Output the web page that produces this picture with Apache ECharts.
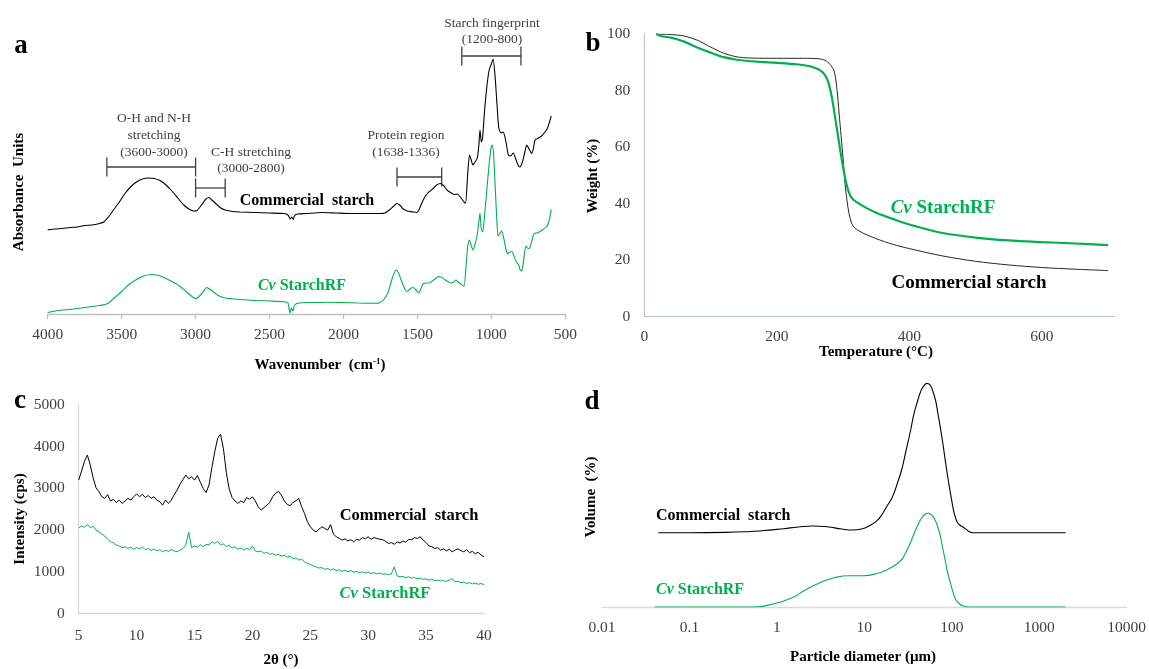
<!DOCTYPE html>
<html>
<head>
<meta charset="utf-8">
<script src="https://cdn.jsdelivr.net/npm/echarts@6/dist/echarts.min.js"></script>
<style>
  html, body { margin: 0; padding: 0; background: #fff; }
  #chart { width: 1149px; height: 669px; }
</style>
</head>
<body>
<div id="chart"></div>
<script>
// ---------- (a) FTIR spectra: [wavenumber (cm-1), absorbance (a.u., stacked)] ----------
const ftirCommercial = [
  [4000,84],[3950,85],[3900,85.5],[3850,86.5],[3800,87],[3750,88.5],[3700,89],[3650,90.5],[3620,92],
  [3590,97],[3560,103],[3520,111],[3480,120],[3440,127],[3400,132],[3360,135],[3320,136],[3280,135.5],
  [3240,133.5],[3200,129],[3160,123],[3120,116],[3080,109],[3040,104.5],[3010,103],[2990,103.5],
  [2960,109],[2930,115],[2910,116.5],[2890,114],[2860,110],[2830,106],[2800,104],[2750,102.5],
  [2700,102],[2600,101.5],[2500,101],[2400,100.5],[2375,99],[2360,95],[2350,97],[2340,94.5],
  [2330,98.5],[2310,100],[2250,100.5],[2150,101.5],[2050,101],[1950,100.5],[1850,100.5],[1750,100.5],
  [1720,101],[1690,104],[1660,108],[1640,110.5],[1620,109],[1600,105.5],[1570,103],[1530,102],
  [1505,101.5],[1490,104],[1470,111],[1450,117],[1430,121],[1410,123.5],[1390,126],[1370,129],
  [1345,130.5],[1320,128],[1300,124],[1270,121],[1250,119.5],[1230,120],[1210,117],[1190,113],
  [1175,110.5],[1160,140],[1148,159],[1138,155],[1125,149],[1110,152],[1095,156],[1085,168],
  [1077,184],[1068,172],[1060,175],[1045,205],[1030,228],[1015,244],[1000,250],[988,255],[975,238],
  [962,210],[950,186],[935,181],[920,182],[905,175],[885,159],[870,158],[852,161],[835,155],[820,149],
  [806,147],[790,152],[775,161],[761,169],[745,165],[727,160.5],[715,166],[705,174],[680,176],
  [660,178],[637,182],[620,186],[605,193],[595,198]
];
const ftirCvStarchRF = [
  [4000,1.5],[3950,3],[3900,4],[3850,4.5],[3800,5.5],[3750,6.5],[3700,7.5],[3650,8.5],[3610,9.5],
  [3580,12],[3550,16],[3500,22.5],[3450,29.5],[3400,34.5],[3350,38],[3300,39.5],[3260,39],[3220,37],
  [3180,34],[3140,31],[3100,27],[3060,22],[3020,17],[3000,15.5],[2980,17],[2950,22],[2925,26.5],
  [2900,24.5],[2870,21],[2840,18],[2800,16],[2700,14.5],[2600,13.5],[2500,13],[2400,12.3],[2375,11],
  [2362,1],[2352,6],[2342,3],[2330,9],[2300,11],[2200,11.5],[2100,11.8],[2000,11.5],[1900,11],
  [1800,10.7],[1760,11],[1730,14],[1700,21],[1680,31],[1660,40],[1642,44],[1625,40],[1605,32],
  [1585,25],[1570,22.5],[1550,25],[1532,26.8],[1510,24],[1490,21],[1475,26],[1460,30.5],[1440,31],
  [1420,31],[1400,33],[1380,35],[1357,37.5],[1335,36.5],[1310,34],[1290,32],[1270,31],[1255,32],
  [1240,34],[1225,32],[1205,30],[1185,27.5],[1170,50],[1160,68],[1148,74],[1135,68],[1125,64],
  [1110,70],[1095,80],[1085,92],[1077,101],[1068,85],[1058,82],[1045,100],[1030,125],[1015,150],
  [1003,165],[994,169],[985,160],[975,130],[965,100],[955,78],[945,80],[930,83],[915,75],[900,64],
  [890,60.5],[875,62],[860,62.5],[845,57],[830,52],[815,49],[805,44],[795,43],[785,50],[775,62],
  [765,68],[752,65.5],[740,66],[725,74],[710,80.5],[690,81],[670,82.5],[650,84.5],[625,87.5],
  [610,93],[595,104.7]
];
const ftirTicks = [4000, 3500, 3000, 2500, 2000, 1500, 1000, 500];
// band brackets: [from, to] in cm-1 and the absorbance level each bracket sits at
const ftirBandRanges = [[3600, 3000], [3000, 2800], [1638, 1336], [1200, 800]];
const ftirBandLevels = [147, 126, 137, 258];

// ---------- (b) TGA: [temperature (°C), weight (%)] ----------
const tgaCommercial = [
  [18,100],[40,99.8],[60,99.3],[80,97.8],[100,95.4],[120,93.2],[140,91.9],[160,91.5],[200,91.4],
  [240,91.4],[265,91.2],[275,90.4],[282,88.8],[287,86.5],[291,80],[294,72],[297,64],[300,56],
  [303,47],[306,41],[309,36.5],[313,33],[318,31.3],[330,29.6],[350,27.6],[375,25.6],[400,24.1],
  [450,21.5],[500,19.6],[550,18.3],[600,17.4],[650,16.8],[700,16.3]
];
const tgaCvStarchRF = [
  [18,100],[26,99.2],[40,98.7],[60,97.3],[80,95.2],[100,93.4],[120,91.8],[140,90.9],[170,90.2],
  [200,89.8],[230,89.3],[250,88.6],[262,87.6],[270,86.3],[276,84],[281,80],[285,75],[289,69],
  [293,63],[297,57],[300,53],[304,48],[308,44.5],[313,42],[320,40.6],[335,38.5],[350,36.8],
  [375,34.6],[400,32.6],[450,29.6],[500,28],[550,27],[600,26.4],[650,25.9],[700,25.3]
];

// ---------- (c) XRD: intensity (cps) sampled every 0.25° of 2θ ----------
const xrdAngles = [
  5,5.25,5.5,5.75,6,6.25,6.5,6.75,7,7.25,7.5,7.75,8,8.25,8.5,8.75,9,9.25,9.5,9.75,
  10,10.25,10.5,10.75,11,11.25,11.5,11.75,12,12.25,12.5,12.75,13,13.25,13.5,13.75,14,14.25,14.5,14.75,
  15,15.25,15.5,15.75,16,16.25,16.5,16.75,17,17.25,17.5,17.75,18,18.25,18.5,18.75,19,19.25,19.5,19.75,
  20,20.25,20.5,20.75,21,21.25,21.5,21.75,22,22.25,22.5,22.75,23,23.25,23.5,23.75,24,24.25,24.5,24.75,
  25,25.25,25.5,25.75,26,26.25,26.5,26.75,27,27.25,27.5,27.75,28,28.25,28.5,28.75,29,29.25,29.5,29.75,
  30,30.25,30.5,30.75,31,31.25,31.5,31.75,32,32.25,32.5,32.75,33,33.25,33.5,33.75,34,34.25,34.5,34.75,
  35,35.25,35.5,35.75,36,36.25,36.5,36.75,37,37.25,37.5,37.75,38,38.25,38.5,38.75,39,39.25,39.5,39.75,
  40
];
const xrdCommercial = [
  3200,3420,3650,3800,3560,3250,3010,2920,2800,2760,
  2850,2700,2740,2660,2720,2640,2700,2760,2720,2800,
  2870,2800,2860,2780,2830,2760,2800,2720,2680,2600,
  2720,2640,2720,2850,2960,3100,3210,3320,3230,3280,
  3200,3310,3150,3000,2900,3080,3500,3880,4200,4300,
  3950,3380,2980,2780,2700,2640,2700,2660,2780,2740,
  2800,2700,2560,2480,2540,2600,2660,2800,2880,2930,
  2840,2700,2620,2580,2660,2700,2760,2560,2400,2200,
  2080,2000,1960,2020,2080,2040,2000,2130,1900,1840,
  1800,1760,1790,1740,1770,1720,1780,1760,1820,1790,
  1840,1780,1820,1800,1780,1770,1730,1680,1700,1660,
  1720,1690,1740,1710,1780,1770,1820,1800,1840,1760,
  1700,1620,1600,1560,1580,1520,1550,1500,1540,1480,
  1520,1550,1510,1480,1530,1460,1490,1430,1470,1400,
  1360
];
const xrdCvStarchRF = [
  2050,2100,2070,2130,2060,2090,2000,1960,1900,1860,
  1780,1720,1690,1640,1620,1580,1600,1560,1590,1540,
  1580,1550,1600,1530,1560,1510,1550,1500,1530,1480,
  1520,1490,1540,1500,1480,1520,1560,1640,1950,1580,
  1620,1590,1650,1600,1660,1640,1720,1680,1730,1650,
  1670,1600,1640,1570,1600,1540,1570,1520,1560,1530,
  1620,1500,1480,1500,1440,1470,1420,1440,1400,1420,
  1380,1400,1350,1370,1320,1330,1280,1300,1240,1200,
  1180,1140,1120,1090,1100,1060,1080,1040,1070,1030,
  1050,1010,1040,1000,1030,990,1010,980,1000,970,
  990,960,980,950,970,940,950,930,950,1120,
  900,880,890,860,880,850,860,830,850,820,
  830,800,820,790,800,780,790,770,800,840,
  760,770,740,750,720,740,710,730,700,720,
  690
];

// ---------- (d) particle size distribution: [diameter (µm), volume (%)] ----------
const psdCommercial = [
  [0.044,0],[0.1,0],[0.26,0.03],[0.5,0.12],[0.67,0.2],[1.0,0.33],[1.2,0.4],[1.75,0.57],[2.57,0.67],
  [3.76,0.6],[5.5,0.37],[7.35,0.27],[9.3,0.37],[11.8,0.77],[14,1.2],[15.8,1.77],[18,2.6],[21,3.6],
  [24,5.0],[26.7,6.27],[30,8.2],[33.9,10.27],[37,11.9],[41,13.27],[44,14.1],[47.3,14.6],[52.1,14.93],
  [56,14.8],[60.1,14.27],[65,13.3],[69.4,11.93],[75,10.2],[80.1,8.6],[86,6.7],[92.5,4.93],[100,3.2],
  [106.7,1.93],[115,1.1],[123,0.77],[132,0.6],[142,0.43],[155,0.15],[172,0],[400,0],[2000,0]
];
const psdCvStarchRF = [
  [0.04,0],[0.3,0],[0.55,0],[0.9,0.3],[1.45,0.87],[2.12,1.7],[3.1,2.43],[4.55,2.93],[6.67,3.13],
  [9.78,3.13],[14.3,3.37],[18,3.7],[21,4.03],[25.4,4.53],[28,5.0],[30.8,5.7],[34,6.5],[37.2,7.37],
  [41,8.2],[45.1,8.87],[49,9.25],[53.6,9.37],[58,9.25],[63,8.87],[68,8.2],[72.8,7.37],[78,6.1],
  [84,4.7],[90,3.4],[97,2.37],[104,1.4],[112,0.7],[123,0.3],[135.5,0.1],[156,0],[400,0],[2000,0]
];
// vertical offset of the stacked commercial-starch curve (volume %)
const psdCommercialOffset = 7.43;

// ---------- styling ----------
const SERIF = '"Liberation Serif", "Times New Roman", serif';
const GREEN = '#00b050';
const TICK_COLOR = '#404040';

const plainNumber = v => String(+Number(v).toPrecision(6));

function text(x, y, str, extra) {
  return {
    type: 'text', x: x, y: y, silent: true,
    style: Object.assign({
      text: str, fill: '#000', fontFamily: SERIF, fontSize: 15,
      align: 'center', verticalAlign: 'middle',
      textAlign: 'center', textVerticalAlign: 'middle'
    }, extra || {})
  };
}
function boldText(x, y, str, size, extra) {
  return text(x, y, str, Object.assign({ fontWeight: 'bold', fontSize: size }, extra || {}));
}
function vTitle(x, y, str, size) {
  const t = boldText(0, 0, str, size);
  t.x = x; t.y = y; t.rotation = Math.PI / 2;
  return t;
}
function cvLabel(x, y, size, align) {
  return text(x, y, '{i|Cv} {b|StarchRF}', {
    fill: GREEN, fontSize: size, fontWeight: 'bold',
    align: align || 'center', textAlign: align || 'center',
    rich: {
      i: { fontStyle: 'italic', fontWeight: 'bold', fontSize: size, fontFamily: SERIF, fill: GREEN, color: GREEN },
      b: { fontWeight: 'bold', fontSize: size, fontFamily: SERIF, fill: GREEN, color: GREEN }
    }
  });
}
const annot = { fill: '#404040', fontSize: 13.5 };

const graphics = [
  // panel letters
  boldText(21, 46, 'a', 27), boldText(593, 44, 'b', 27),
  boldText(20, 401, 'c', 27), boldText(592, 402, 'd', 27),

  // (a)
  vTitle(19, 192, 'Absorbance  Units', 15),
  text(320, 365, '{t|Wavenumber  (cm}{s|-1}{t|)}', {
    rich: {
      t: { fontFamily: SERIF, fontWeight: 'bold', fontSize: 15, fill: '#000' },
      s: { fontFamily: SERIF, fontWeight: 'bold', fontSize: 9, fill: '#000', verticalAlign: 'top', padding: [0, 0, 6, 0] }
    }
  }),
  text(154, 118, 'O-H and N-H', annot),
  text(154, 135, 'stretching', annot),
  text(154, 152, '(' + ftirBandRanges[0].join('-') + ')', annot),
  text(251, 152, 'C-H stretching', annot),
  text(251, 168, '(' + ftirBandRanges[1].join('-') + ')', annot),
  text(406, 135, 'Protein region', annot),
  text(406, 152, '(' + ftirBandRanges[2].join('-') + ')', annot),
  text(492, 23, 'Starch fingerprint', annot),
  text(492, 39.5, '(' + ftirBandRanges[3].join('-') + ')', annot),
  boldText(307, 201, 'Commercial  starch', 16),
  cvLabel(302, 286, 16),

  // (b)
  vTitle(593, 176, 'Weight (%)', 15),
  boldText(876, 352, 'Temperature (°C)', 15),
  cvLabel(943, 208, 19),
  boldText(969, 283, 'Commercial starch', 19),

  // (c)
  vTitle(20, 519, 'Intensity (cps)', 15),
  boldText(281, 660, '2θ (°)', 15),
  boldText(409, 516, 'Commercial  starch', 16.5),
  cvLabel(385, 594, 16.5),

  // (d)
  vTitle(591, 497, 'Volume  (%)', 15),
  boldText(863, 657, 'Particle diameter (µm)', 15),
  boldText(656, 516, 'Commercial  starch', 16, { align: 'left', textAlign: 'left' }),
  cvLabel(656, 590, 16, 'left')
];

const labelFont = { fontFamily: SERIF, fontSize: 15.5, color: TICK_COLOR };

const option = {
  animation: false,
  backgroundColor: '#fff',
  grid: [
    { left: 47.7, top: 14, width: 517.6, height: 300 },
    { left: 644.3, top: 34, width: 470.4, height: 282.7 },
    { left: 78.7, top: 405, width: 405.3, height: 208.5 },
    { left: 602, top: 377, width: 525, height: 230 }
  ],
  xAxis: [
    {
      gridIndex: 0, type: 'value', inverse: true, min: 500, max: 4000, interval: 500,
      axisLine: { show: true, onZero: false, lineStyle: { color: '#bfbfbf', width: 1.3 } },
      axisTick: { show: true, length: 5, lineStyle: { color: '#bfbfbf', width: 1.3 } },
      splitLine: { show: false },
      axisLabel: Object.assign({ margin: 13, formatter: v => ftirTicks.includes(v) ? plainNumber(v) : '' }, labelFont)
    },
    {
      gridIndex: 1, type: 'value', min: 0, max: 710, interval: 200,
      axisLine: { show: true, onZero: false, lineStyle: { color: '#bcc5d6', width: 1.2 } },
      axisTick: { show: false }, splitLine: { show: false },
      axisLabel: Object.assign({ margin: 12, formatter: v => (v % 200 === 0 ? plainNumber(v) : '') }, labelFont)
    },
    {
      gridIndex: 2, type: 'value', min: 5, max: 40, interval: 5,
      axisLine: { show: true, onZero: false, lineStyle: { color: '#d9d9d9', width: 1.3 } },
      axisTick: { show: false }, splitLine: { show: false },
      axisLabel: Object.assign({ margin: 14, formatter: plainNumber }, labelFont)
    },
    {
      gridIndex: 3, type: 'log', logBase: 10, min: 0.01, max: 10000,
      axisLine: { show: true, onZero: false, lineStyle: { color: '#d9d9d9', width: 1.3 } },
      axisTick: { show: false }, splitLine: { show: false }, minorTick: { show: false },
      axisLabel: Object.assign({ margin: 13, formatter: plainNumber }, labelFont)
    }
  ],
  yAxis: [
    { gridIndex: 0, type: 'value', min: 0, max: 300, show: false },
    {
      gridIndex: 1, type: 'value', min: 0, max: 100, interval: 20,
      axisLine: { show: true, lineStyle: { color: '#bcc5d6', width: 1.2 } },
      axisTick: { show: false }, splitLine: { show: false },
      axisLabel: Object.assign({ margin: 14, formatter: plainNumber }, labelFont)
    },
    {
      gridIndex: 2, type: 'value', min: 0, max: 5000, interval: 1000,
      axisLine: { show: true, lineStyle: { color: '#d9d9d9', width: 1.3 } },
      axisTick: { show: false }, splitLine: { show: false },
      axisLabel: Object.assign({ margin: 14, formatter: plainNumber }, labelFont)
    },
    { gridIndex: 3, type: 'value', min: 0, max: 23, show: false }
  ],
  series: [
    // (a)
    { type: 'line', xAxisIndex: 0, yAxisIndex: 0, data: ftirCvStarchRF, showSymbol: false, smooth: 0.2,
      lineStyle: { color: GREEN, width: 1.1 } },
    { type: 'line', xAxisIndex: 0, yAxisIndex: 0, data: ftirCommercial, showSymbol: false, smooth: 0.2,
      lineStyle: { color: '#000', width: 1.1 } },
    {
      type: 'custom', xAxisIndex: 0, yAxisIndex: 0, silent: true,
      data: ftirBandRanges.map((r, i) => [r[0], r[1], ftirBandLevels[i]]),
      renderItem: function (params, api) {
        const p1 = api.coord([api.value(0), api.value(2)]);
        const p2 = api.coord([api.value(1), api.value(2)]);
        const h = 9.5;
        const st = { stroke: '#404040', lineWidth: 1.3 };
        return {
          type: 'group',
          children: [
            { type: 'line', shape: { x1: p1[0], y1: p1[1], x2: p2[0], y2: p2[1] }, style: st },
            { type: 'line', shape: { x1: p1[0], y1: p1[1] - h, x2: p1[0], y2: p1[1] + h }, style: st },
            { type: 'line', shape: { x1: p2[0], y1: p2[1] - h, x2: p2[0], y2: p2[1] + h }, style: st }
          ]
        };
      }
    },
    // (b)
    { type: 'line', xAxisIndex: 1, yAxisIndex: 1, data: tgaCommercial, showSymbol: false, smooth: 0.3,
      lineStyle: { color: '#262626', width: 1 } },
    { type: 'line', xAxisIndex: 1, yAxisIndex: 1, data: tgaCvStarchRF, showSymbol: false, smooth: 0.3,
      lineStyle: { color: GREEN, width: 2.2 } },
    // (c)
    { type: 'line', xAxisIndex: 2, yAxisIndex: 2, data: xrdAngles.map((a, i) => [a, xrdCommercial[i]]),
      showSymbol: false, lineStyle: { color: '#000', width: 1 } },
    { type: 'line', xAxisIndex: 2, yAxisIndex: 2, data: xrdAngles.map((a, i) => [a, xrdCvStarchRF[i]]),
      showSymbol: false, lineStyle: { color: GREEN, width: 1 } },
    // (d)
    { type: 'line', xAxisIndex: 3, yAxisIndex: 3,
      data: psdCommercial.map(p => [p[0], p[1] + psdCommercialOffset]),
      showSymbol: false, smooth: 0.5, lineStyle: { color: '#000', width: 1.1 } },
    { type: 'line', xAxisIndex: 3, yAxisIndex: 3, data: psdCvStarchRF,
      showSymbol: false, smooth: 0.5, lineStyle: { color: GREEN, width: 1.1 } }
  ],
  graphic: graphics
};

const chart = echarts.init(document.getElementById('chart'), null, { renderer: 'canvas' });
chart.setOption(option);
</script>
</body>
</html>
